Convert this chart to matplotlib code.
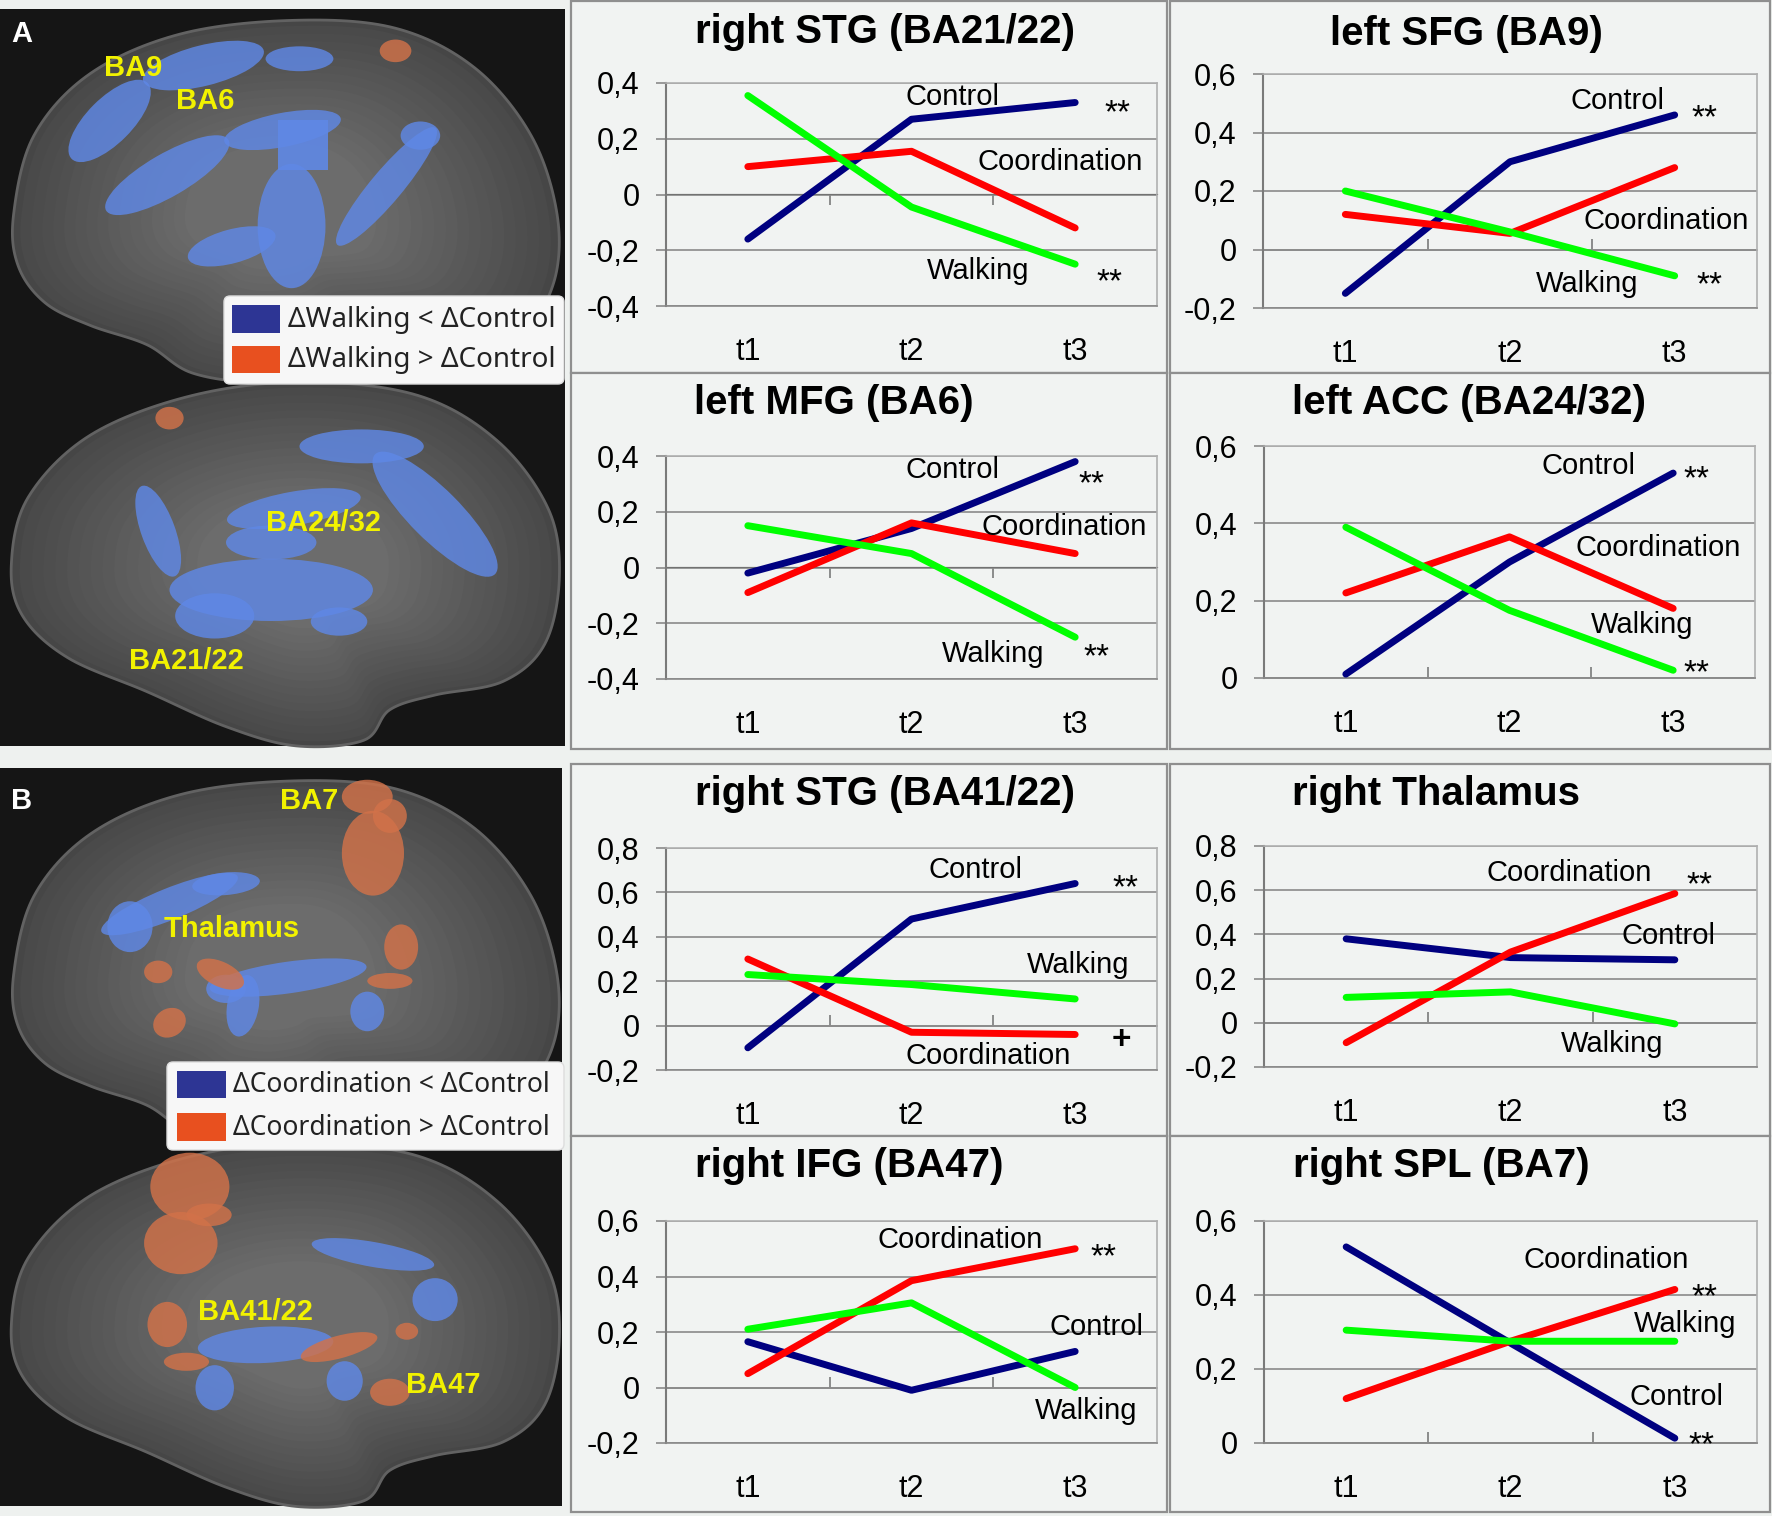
import numpy as np
import matplotlib
matplotlib.use("Agg")
import matplotlib.pyplot as plt
from matplotlib.patches import Rectangle, Polygon, Ellipse, FancyBboxPatch
from matplotlib.ticker import FuncFormatter

plt.rcParams['font.family'] = ['Liberation Sans', 'DejaVu Sans']

W, H = 1772, 1516

# ---------------- data ----------------
times = ["t1", "t2", "t3"]
titles = ["right STG (BA21/22)", "left SFG (BA9)", "left MFG (BA6)", "left ACC (BA24/32)",
          "right STG (BA41/22)", "right Thalamus", "right IFG (BA47)", "right SPL (BA7)"]
control = [[-0.16, 0.27, 0.33], [-0.15, 0.30, 0.46], [-0.02, 0.14, 0.38], [0.01, 0.30, 0.53],
           [-0.10, 0.48, 0.64], [0.38, 0.295, 0.285], [0.165, -0.01, 0.13], [0.53, 0.27, 0.013]]
coordination = [[0.10, 0.155, -0.12], [0.12, 0.055, 0.28], [-0.09, 0.16, 0.05], [0.22, 0.365, 0.18],
                [0.30, -0.03, -0.04], [-0.09, 0.32, 0.585], [0.05, 0.385, 0.50], [0.12, 0.275, 0.415]]
walking = [[0.355, -0.045, -0.25], [0.20, 0.06, -0.09], [0.15, 0.05, -0.25], [0.39, 0.175, 0.02],
           [0.23, 0.185, 0.12], [0.115, 0.14, -0.005], [0.21, 0.305, 0.0], [0.305, 0.275, 0.275]]
y_ticks = [[-0.4, -0.2, 0, 0.2, 0.4], [-0.2, 0, 0.2, 0.4, 0.6], [-0.4, -0.2, 0, 0.2, 0.4],
           [0, 0.2, 0.4, 0.6], [-0.2, 0, 0.2, 0.4, 0.6, 0.8], [-0.2, 0, 0.2, 0.4, 0.6, 0.8],
           [-0.2, 0, 0.2, 0.4, 0.6], [0, 0.2, 0.4, 0.6]]
# significance signs per chart
signs = [[("Control", "**"), ("Walking", "**")], [("Control", "**"), ("Walking", "**")],
         [("Control", "**"), ("Walking", "**")], [("Control", "**"), ("Walking", "**")],
         [("Control", "**"), ("Coordination", "+")], [("Coordination", "**")],
         [("Coordination", "**")], [("Coordination", "**"), ("Control", "**")]]
legend_a = ["\u0394Walking < \u0394Control", "\u0394Walking > \u0394Control"]
legend_b = ["\u0394Coordination < \u0394Control", "\u0394Coordination > \u0394Control"]

# ---------------- layout ----------------
plot_boxes = [(666, 83, 1157, 306), (1263, 74, 1757, 308), (666, 456, 1157, 679), (1264, 446, 1755, 678),
              (666, 848, 1157, 1070), (1264, 846, 1757, 1067), (666, 1221, 1157, 1443), (1264, 1221, 1757, 1443)]
title_pos = [(885, 32), (1466, 34), (834, 403), (1469, 403), (885, 794), (1436, 794), (849, 1166), (1441, 1166)]
name_pos = [
    {"Control": (2.25, 0.35), "Coordination": (2.91, 0.116), "Walking": (2.41, -0.273)},
    {"Control": (2.65, 0.508), "Coordination": (2.95, 0.097), "Walking": (2.47, -0.118)},
    {"Control": (2.25, 0.35), "Coordination": (2.93, 0.146), "Walking": (2.5, -0.309)},
    {"Control": (2.48, 0.547), "Coordination": (2.91, 0.336), "Walking": (2.81, 0.138)},
    {"Control": (2.39, 0.70), "Coordination": (2.47, -0.136), "Walking": (3.02, 0.273)},
    {"Control": (2.96, 0.393), "Coordination": (2.36, 0.678), "Walking": (2.62, -0.096)},
    {"Control": (3.13, 0.219), "Coordination": (2.30, 0.531), "Walking": (3.07, -0.086)},
    {"Control": (3.01, 0.123), "Coordination": (2.58, 0.495), "Walking": (3.06, 0.322)},
]
sign_pos = [
    {"Control": (3.26, 0.329), "Walking": (3.21, -0.279)},
    {"Control": (3.18, 0.485), "Walking": (3.21, -0.087)},
    {"Control": (3.10, 0.335), "Walking": (3.13, -0.285)},
    {"Control": (3.14, 0.540), "Walking": (3.14, 0.040)},
    {"Control": (3.31, 0.663), "Coordination": (3.28, -0.057)},
    {"Coordination": (3.15, 0.670)},
    {"Coordination": (3.17, 0.507)},
    {"Coordination": (3.18, 0.423), "Control": (3.16, 0.0225)},
]
col_x = [(571, 1167), (1170, 1770)]
row_y = [(1, 373), (373, 749), (764, 1136), (1136, 1512)]

BLUE, RED, GREEN = '#000080', '#ff0000', '#00ff00'
GRID = '#8a8a8a'

fig = plt.figure(figsize=(W / 100, H / 100), dpi=100)
fig.patch.set_facecolor('#eef1ef')

# chart frames
for r in range(4):
    for c in range(2):
        x0, x1 = col_x[c]
        y0, y1 = row_y[r]
        fig.add_artist(Rectangle((x0 / W, 1 - y1 / H), (x1 - x0) / W, (y1 - y0) / H,
                                 transform=fig.transFigure, facecolor='#f1f3f2',
                                 edgecolor='#8f8f8f', lw=1.6, zorder=-1))


def fmt(v, pos):
    s = "%g" % round(v, 2)
    return s.replace('.', ',')


x = np.arange(1, 4)
for i in range(8):
    x0, y0, x1, y1 = plot_boxes[i]
    ax = fig.add_axes([x0 / W, 1 - y1 / H, (x1 - x0) / W, (y1 - y0) / H])
    ax.set_facecolor('none')
    lo, hi = y_ticks[i][0], y_ticks[i][-1]
    ax.set_xlim(0.5, 3.5)
    ax.set_ylim(lo, hi)
    ax.set_yticks(y_ticks[i])
    ax.yaxis.set_major_formatter(FuncFormatter(fmt))
    ax.set_xticks(x)
    ax.set_xticklabels(times)
    ax.tick_params(axis='x', length=0, pad=22, labelsize=22)
    ax.tick_params(axis='y', length=7, width=1.2, color=GRID, pad=12, labelsize=22)
    ax.yaxis.grid(True, color=GRID, lw=1.2)
    ax.set_axisbelow(True)
    for side in ['top', 'right']:
        ax.spines[side].set_color('#b0b0b0')
        ax.spines[side].set_linewidth(1.2)
    ax.spines['left'].set_color('#7a7a7a')
    ax.spines['left'].set_linewidth(1.5)
    ax.spines['bottom'].set_color(GRID)
    ax.spines['bottom'].set_linewidth(1.2)

    # category axis at zero with boundary ticks
    sec = ax.secondary_xaxis((0 - lo) / (hi - lo))
    sec.set_xticks([1.5, 2.5])
    sec.set_xticklabels([])
    sec.tick_params(direction='in', length=8, width=1.2, color='#7a7a7a')
    sec.spines['bottom'].set_color(GRID)
    sec.spines['bottom'].set_linewidth(1.2)

    series = {"Control": control[i], "Coordination": coordination[i], "Walking": walking[i]}
    colors = {"Control": BLUE, "Coordination": RED, "Walking": GREEN}
    for name in ["Control", "Coordination", "Walking"]:
        ax.plot(x, series[name], color=colors[name], lw=5, solid_capstyle='round',
                solid_joinstyle='round', clip_on=False, zorder=3)
        px, py = name_pos[i][name]
        ax.text(px, py, name, ha='center', va='center', fontsize=21, zorder=4)
    for name, sgn in signs[i]:
        px, py = sign_pos[i][name]
        if sgn == '+':
            ax.annotate(sgn, (px, py), xytext=(0, -0.33 * 24), textcoords='offset points',
                        ha='center', va='baseline', fontsize=24, fontweight='bold')
        else:
            ax.annotate(sgn, (px, py), xytext=(0, -0.58 * 24), textcoords='offset points',
                        ha='center', va='baseline', fontsize=24)
    tx, ty = title_pos[i]
    fig.text(tx / W, 1 - ty / H, titles[i], ha='center', va='center', fontsize=29, fontweight='bold')

# ---------------- brain panels (schematic) ----------------
S = W / 1568.0
bax = fig.add_axes([0, 0, 568 / W, 1])
bax.set_xlim(0, 568)
bax.set_ylim(H, 0)
bax.axis('off')
bax.add_patch(Rectangle((0, 9), 565, 737, facecolor='#151515', edgecolor='none'))
bax.add_patch(Rectangle((0, 768), 562, 738, facecolor='#151515', edgecolor='none'))


def smooth_closed(pts, n=16):
    P = np.array(pts, dtype=float)
    N = len(P)
    t = np.linspace(0, 1, n, endpoint=False)[:, None]
    out = []
    for k in range(N):
        p0, p1, p2, p3 = P[k - 1], P[k], P[(k + 1) % N], P[(k + 2) % N]
        out.append(0.5 * (2 * p1 + (-p0 + p2) * t + (2 * p0 - 5 * p1 + 4 * p2 - p3) * t ** 2
                          + (-p0 + 3 * p1 - 3 * p2 + p3) * t ** 3))
    return np.vstack(out)


upper = [(12, 190), (30, 120), (80, 65), (160, 30), (260, 18), (350, 25), (420, 60), (470, 120),
         (493, 190), (490, 250), (462, 290), (400, 302), (330, 308), (290, 328), (230, 338),
         (170, 330), (130, 305), (80, 288), (40, 268), (16, 235)]
lower = [(10, 500), (25, 440), (80, 385), (170, 350), (270, 338), (370, 350), (440, 390),
         (485, 450), (495, 510), (482, 570), (445, 603), (385, 615), (345, 628), (322, 655),
         (262, 660), (200, 643), (130, 612), (60, 582), (20, 545)]


def draw_brain(pts, dy):
    P = smooth_closed([(px * S, (py + dy) * S) for px, py in pts])
    c = P.mean(axis=0) + np.array([0, -20])
    bax.add_patch(Polygon(P, closed=True, facecolor='#464646', edgecolor='#626262', lw=2))
    steps = np.linspace(0.97, 0.35, 16)
    for k, f in enumerate(steps):
        g = 0x4a + int(k * (0x6c - 0x4a) / (len(steps) - 1))
        bax.add_patch(Polygon(c + (P - c) * f, closed=True, facecolor='#%02x%02x%02x' % (g, g, g),
                              edgecolor='none'))


for pts in (upper, lower):
    draw_brain(pts, 0)
    draw_brain(pts, 673)

BL, OR = '#5f88e6', '#d27249'
blobs = [
    # panel A, upper
    (97, 107, 95, 40, 45, BL), (180, 58, 110, 36, 14, BL), (265, 52, 60, 22, 0, BL),
    (148, 155, 125, 38, 30, BL), (250, 115, 105, 30, 11, BL), (258, 200, 60, 110, 0, BL),
    (205, 218, 80, 30, 15, BL), (342, 165, 135, 28, 50, BL), (372, 120, 35, 25, 0, BL),
    (350, 45, 28, 20, 0, OR),
    # panel A, lower
    (140, 470, 30, 85, 20, BL), (240, 522, 180, 55, 0, BL), (190, 545, 70, 40, 0, BL),
    (300, 550, 50, 25, 0, BL), (260, 450, 120, 30, 10, BL), (320, 395, 110, 30, 0, BL),
    (385, 455, 150, 45, -45, BL), (240, 480, 80, 30, 0, BL), (150, 370, 25, 20, 0, OR),
    # panel B, upper
    (330, 755, 55, 75, 0, OR), (325, 705, 45, 30, 0, OR), (345, 722, 30, 30, 0, OR),
    (150, 800, 130, 28, 22, BL), (115, 820, 40, 45, 0, BL), (200, 782, 60, 20, 5, BL),
    (255, 865, 140, 28, 8, BL), (215, 890, 28, 55, -10, BL), (200, 875, 35, 25, 0, BL),
    (325, 895, 30, 35, 0, BL), (140, 860, 25, 20, 0, OR), (195, 862, 45, 22, -25, OR),
    (355, 838, 30, 40, 0, OR), (345, 868, 40, 14, 0, OR), (150, 905, 30, 25, 30, OR),
    # panel B, lower
    (168, 1050, 70, 60, 0, OR), (160, 1100, 65, 55, 0, OR), (185, 1075, 40, 20, 0, OR),
    (330, 1110, 110, 22, -10, BL), (385, 1150, 40, 38, 0, BL), (148, 1172, 35, 40, 0, OR),
    (165, 1205, 40, 16, 0, OR), (235, 1190, 120, 32, 3, BL), (190, 1228, 34, 40, 0, BL),
    (305, 1222, 32, 35, 0, BL), (300, 1192, 70, 20, 15, OR), (345, 1232, 35, 24, 0, OR),
    (360, 1178, 20, 15, 0, OR),
]
for cx, cy, bw, bh, ang, col in blobs:
    bax.add_patch(Ellipse((cx * S, cy * S), bw * S, bh * S, angle=-ang, facecolor=col,
                          edgecolor='none', alpha=0.82))
bax.add_patch(Rectangle((246 * S, 106 * S), 44 * S, 44 * S, facecolor=BL, edgecolor='none', alpha=0.9))

labels_y = [("BA9", 133, 68), ("BA6", 205, 101), ("BA24/32", 324, 523), ("BA21/22", 186, 661),
            ("BA7", 309, 801), ("Thalamus", 232, 929), ("BA41/22", 255, 1312), ("BA47", 443, 1385)]
for txt, lx, ly in labels_y:
    bax.text(lx, ly, txt, color='#f2f200', fontsize=21, fontweight='bold', ha='center', va='center')
bax.text(22, 34, "A", color='white', fontsize=21, fontweight='bold', ha='center', va='center')
bax.text(22, 801, "B", color='white', fontsize=21, fontweight='bold', ha='center', va='center')

# legends inside brain panels
for (lx0, ly0, lx1, ly1), (p0, p1), tx, rows, txts, fs in [
        ((224, 296, 564, 384), (232, 280), 288, [(305, 333), (346, 373)], legend_a, 20),
        ((167, 1062, 564, 1150), (177, 226), 233, [(1071, 1098), (1113, 1141)], legend_b, 19)]:
    bax.add_patch(FancyBboxPatch((lx0, ly0), lx1 - lx0, ly1 - ly0,
                                 boxstyle='round,pad=0,rounding_size=6',
                                 facecolor='#f7f7f7', edgecolor='#dddddd', lw=1))
    for (ry0, ry1), col, t in zip(rows, ['#2d3594', '#e8501f'], txts):
        bax.add_patch(Rectangle((p0, ry0), p1 - p0, ry1 - ry0, facecolor=col, edgecolor='none'))
        bax.text(tx, (ry0 + ry1) / 2 + 1, t, fontsize=fs, ha='left', va='center',
                 family=['Noto Sans', 'DejaVu Sans'], color='#222222')

fig.savefig("out.png", dpi=100, facecolor=fig.get_facecolor())
